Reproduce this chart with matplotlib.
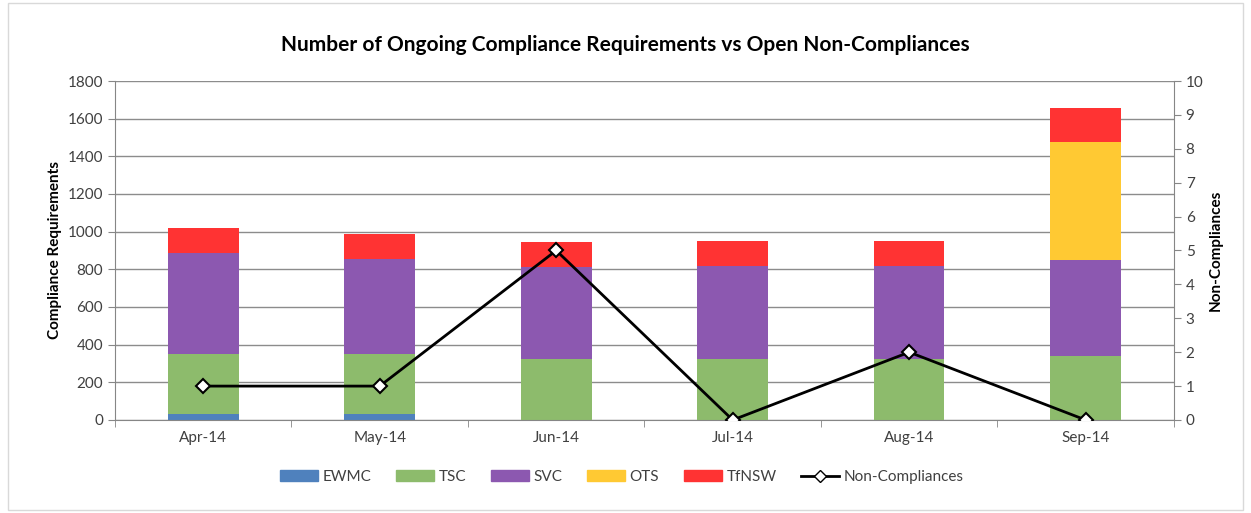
import matplotlib
matplotlib.use("Agg")
import matplotlib.pyplot as plt
from matplotlib.patches import Rectangle
from matplotlib.lines import Line2D
import numpy as np

plt.rcParams["font.family"] = ["Lato", "DejaVu Sans"]

months = ["Apr-14", "May-14", "Jun-14", "Jul-14", "Aug-14", "Sep-14"]
ewmc = [30, 30, 0, 0, 0, 0]
tsc = [320, 320, 325, 325, 325, 340]
svc = [535, 503, 485, 495, 495, 510]
ots = [0, 0, 0, 0, 0, 625]
tfnsw = [136, 135, 135, 130, 130, 180]
non_comp = [1, 1, 5, 0, 2, 0]

series = [("EWMC", ewmc, "#4F81BD"),
          ("TSC", tsc, "#8DBB6C"),
          ("SVC", svc, "#8C58B0"),
          ("OTS", ots, "#FFC933"),
          ("TfNSW", tfnsw, "#FF3333")]

fig = plt.figure(figsize=(12.51, 5.13), dpi=100)
fig.patches.append(Rectangle((0.006, 0.006), 0.988, 0.988, transform=fig.transFigure,
                             fill=False, edgecolor="#D9D9D9", linewidth=1))
ax = fig.add_axes([0.0919, 0.1813, 0.8465, 0.6608])
x = np.arange(len(months))

bottom = np.zeros(len(months))
for name, vals, color in series:
    ax.bar(x, vals, 0.4, bottom=bottom, color=color, label=name, zorder=2)
    bottom += np.array(vals)

ax.set_xlim(-0.5, len(months) - 0.5)
ax.set_ylim(0, 1800)
ax.set_yticks(range(0, 1801, 200))
ax.set_xticks(x)
ax.set_xticklabels(months)
ax.set_xticks(np.arange(-0.5, len(months), 1), minor=True)
ax.tick_params(axis="x", which="major", length=0, pad=8)
ax.tick_params(axis="x", which="minor", length=5, color="#868686")
ax.tick_params(axis="y", length=5, color="#868686")
ax.tick_params(labelsize=11, labelcolor="#404040")
ax.grid(axis="y", color="#8C8C8C", linewidth=1, zorder=0)
ax.set_axisbelow(True)
for s in ["top", "right"]:
    ax.spines[s].set_visible(False)
for s in ["left", "bottom"]:
    ax.spines[s].set_color("#868686")
ax.set_ylabel("Compliance Requirements", fontsize=11, fontweight="bold")

ax2 = ax.twinx()
ax2.plot(x, non_comp, color="black", linewidth=2, marker="D", markersize=7,
         markerfacecolor="white", markeredgecolor="black", markeredgewidth=1.5,
         zorder=5)
ax2.set_ylim(0, 10)
ax2.set_yticks(range(0, 11))
ax2.tick_params(axis="y", length=5, color="#868686", labelsize=11, labelcolor="#404040")
for s in ["top", "left", "bottom"]:
    ax2.spines[s].set_visible(False)
ax2.spines["right"].set_color("#868686")
ax2.set_ylabel("Non-Compliances", fontsize=11, fontweight="bold")

fig.text(0.5, 0.912, "Number of Ongoing Compliance Requirements vs Open Non-Compliances",
         ha="center", va="center", fontsize=15, fontweight="bold")

handles = [Rectangle((0, 0), 1, 1, color=c) for _, _, c in series]
labels = [n for n, _, _ in series]
handles.append(Line2D([], [], color="black", linewidth=2, marker="D", markersize=6,
                      markerfacecolor="white", markeredgecolor="black"))
labels.append("Non-Compliances")
fig.legend(handles, labels, loc="center", bbox_to_anchor=(0.497, 0.07), ncol=6,
           frameon=False, fontsize=11, handlelength=2.5, handletextpad=0.3,
           columnspacing=1.6, labelcolor="#404040")

fig.savefig("out.png", dpi=100)
